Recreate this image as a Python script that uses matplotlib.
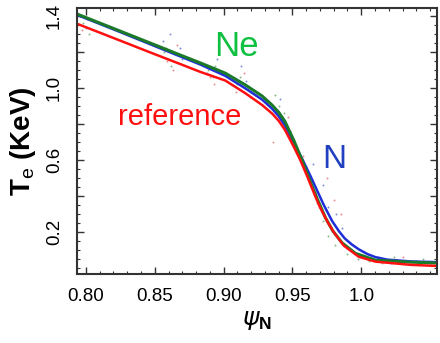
import numpy as np
import matplotlib.pyplot as plt
from matplotlib.ticker import MultipleLocator

plt.rcParams['font.family'] = ['Liberation Sans', 'DejaVu Sans']
plt.rcParams['mathtext.fontset'] = 'custom'
plt.rcParams['mathtext.rm'] = 'Liberation Sans'
plt.rcParams['mathtext.bf'] = 'Liberation Sans:bold'

# fitted profiles (psi_N, Te in keV)
psi_ne = [0.7935, 0.820, 0.850, 0.870, 0.883, 0.9012, 0.9157, 0.928, 0.9352, 0.940,
          0.9445, 0.9509, 0.957, 0.9622, 0.968, 0.974, 0.9795, 0.9861, 0.9958, 1.0103,
          1.036, 1.055]
te_ne = [1.41, 1.33, 1.239, 1.178, 1.139, 1.082, 1.017, 0.955, 0.905, 0.865,
         0.815, 0.711, 0.600, 0.495, 0.385, 0.280, 0.205, 0.140, 0.082, 0.044,
         0.033, 0.028]

psi_n = [0.7935, 0.820, 0.850, 0.870, 0.883, 0.9012, 0.9157, 0.928, 0.9352, 0.940,
         0.9445, 0.9509, 0.9575, 0.9635, 0.9692, 0.9728, 0.9788, 0.9838, 0.988, 0.993,
         0.9985, 1.0045, 1.0103, 1.019, 1.036, 1.055]
te_n = [1.405, 1.325, 1.232, 1.170, 1.130, 1.067, 0.998, 0.935, 0.885, 0.843,
        0.792, 0.695, 0.600, 0.505, 0.410, 0.350, 0.262, 0.205, 0.165, 0.132,
        0.103, 0.078, 0.061, 0.047, 0.037, 0.033]

psi_ref = [0.7935, 0.820, 0.850, 0.870, 0.883, 0.9012, 0.9157, 0.928, 0.9352, 0.940,
           0.9445, 0.9509, 0.9557, 0.961, 0.966, 0.970, 0.976, 0.980, 0.9873, 0.9982,
           1.0103, 1.036, 1.055]
te_ref = [1.356, 1.277, 1.187, 1.128, 1.089, 1.041, 0.971, 0.905, 0.858, 0.818,
          0.768, 0.675, 0.600, 0.505, 0.410, 0.338, 0.250, 0.200, 0.125, 0.063,
          0.036, 0.018, 0.012]

# measured points (scatter)
pts_g_x = [0.798, 0.802, 0.857, 0.860, 0.862, 0.858, 0.889, 0.892, 0.894, 0.910, 0.912,
           0.937, 0.940, 0.942, 0.944, 0.960, 0.964, 0.968, 0.972, 0.976, 0.981,
           0.990, 0.998, 1.006, 1.015, 1.024, 1.035, 1.045]
pts_g_y = [1.36, 1.30, 1.20, 1.16, 1.12, 1.22, 1.10, 1.06, 1.12, 1.02, 1.06,
           0.96, 0.90, 0.80, 0.86, 0.56, 0.48, 0.36, 0.26, 0.18, 0.13,
           0.08, 0.05, 0.04, 0.03, 0.06, 0.04, 0.05]
pts_b_x = [0.796, 0.800, 0.856, 0.861, 0.868, 0.870, 0.888, 0.895, 0.913, 0.916,
           0.941, 0.945, 0.948, 0.965, 0.972, 0.976, 0.982, 0.986, 0.992, 1.002,
           1.012, 1.022, 1.040, 1.050]
pts_b_y = [1.40, 1.33, 1.26, 1.30, 1.22, 1.16, 1.08, 1.16, 1.12, 1.04,
           0.94, 0.80, 0.76, 0.58, 0.46, 0.34, 0.30, 0.22, 0.14, 0.09,
           0.06, 0.03, 0.04, 0.03]
pts_r_x = [0.797, 0.801, 0.859, 0.863, 0.866, 0.890, 0.893, 0.909, 0.915, 0.936,
           0.939, 0.947, 0.958, 0.962, 0.967, 0.975, 0.980, 0.985, 0.995, 1.008,
           1.020, 1.030, 1.048]
pts_r_y = [1.32, 1.38, 1.15, 1.10, 1.24, 1.06, 1.02, 0.98, 1.08, 0.70,
           0.88, 0.84, 0.62, 0.48, 0.42, 0.50, 0.38, 0.30, 0.12, 0.05,
           0.04, 0.06, 0.02]

fig = plt.figure(figsize=(4.4, 3.43), dpi=100)
ax = fig.add_axes([0.175, 0.201, 0.818, 0.776])

ax.plot(pts_g_x, pts_g_y, 'o', ms=1.4, color='#3a8a3a', alpha=0.6, mec='none')
ax.plot(pts_b_x, pts_b_y, 'o', ms=1.4, color='#3040c0', alpha=0.6, mec='none')
ax.plot(pts_r_x, pts_r_y, 'o', ms=1.4, color='#e04050', alpha=0.6, mec='none')

ax.plot(psi_n, te_n, color='#1f2fd8', lw=1.8)
ax.plot(psi_ne, te_ne, color='#1a7a2a', lw=2.2)
ax.plot(psi_ref, te_ref, color='#ff1010', lw=1.8)

ax.text(0.893, 1.228, 'Ne', color='#10c040', fontsize=25, va='center', ha='left')
ax.text(0.9715, 0.60, 'N', color='#2040c0', fontsize=24, va='center', ha='left')
ax.text(0.823, 0.839, 'reference', color='#ff1010', fontsize=21, va='center', ha='left')

ax.set_xlim(0.7935, 1.055)
ax.set_ylim(-0.033, 1.444)

ax.set_xticks([0.80, 0.85, 0.90, 0.95, 1.0])
ax.set_xticklabels(['0.80', '0.85', '0.90', '0.95', '1.0'])
ax.xaxis.set_minor_locator(MultipleLocator(0.01))
ax.set_yticks([0.2, 0.4, 0.6, 0.8, 1.0, 1.2, 1.4])
ax.set_yticklabels(['0.2', '', '0.6', '', '1.0', '', '1.4'], rotation=90, va='center')
ax.yaxis.set_minor_locator(MultipleLocator(0.05))

ax.tick_params(which='both', direction='in', top=True, right=True, color='#333333')
ax.tick_params(which='major', length=5, width=1.0, labelsize=13.5)
ax.tick_params(axis='x', which='major', pad=10)
ax.tick_params(axis='y', which='major', pad=10)
ax.tick_params(which='minor', length=2.5, width=0.8)
for s in ax.spines.values():
    s.set_linewidth(1.5)
    s.set_color('#333333')

ax.set_ylabel('$\\mathbf{T}_\\mathregular{e}$ $\\mathbf{(KeV)}$', fontsize=20, labelpad=6)
ax.set_xlabel('$\\psi_{\\mathbf{N}}$', fontsize=18, labelpad=2)

fig.savefig('out.png', dpi=100)
